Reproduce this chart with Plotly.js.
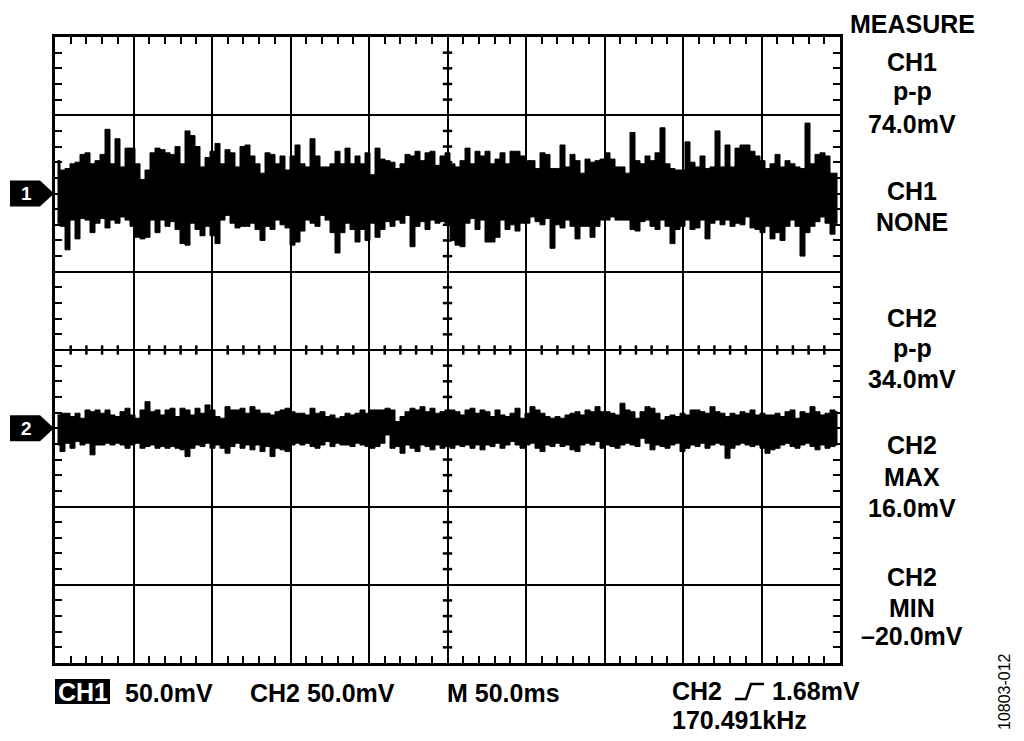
<!DOCTYPE html>
<html>
<head>
<meta charset="utf-8">
<script src="https://cdn.plot.ly/plotly-3.0.1.min.js"></script>
<style>
  html, body { margin: 0; padding: 0; background: #fff; }
  #scope { width: 1024px; height: 741px; }
</style>
</head>
<body>
<div id="scope"></div>
<script>
// envelope of each trace, one column = 1/15.7 div, values in mV from the channel ground
var ch1Hi = [
    21, 15, 16, 19, 20, 25, 26, 19, 21, 25, 41, 19, 35, 17, 29, 29, 19, 9, 15, 26,
    29, 28, 26, 25, 30, 19, 40, 37, 30, 17, 23, 27, 32, 19, 28, 26, 17, 30, 31, 24,
    19, 13, 26, 25, 19, 24, 15, 24, 31, 19, 17, 35, 24, 17, 17, 19, 27, 19, 29, 19,
    24, 19, 26, 12, 29, 22, 21, 20, 16, 19, 25, 24, 27, 21, 26, 27, 18, 24, 26,
    19, 17, 21, 29, 19, 27, 24, 27, 19, 22, 26, 19, 27, 27, 24, 21, 21, 16, 26, 25,
    16, 16, 31, 17, 25, 21, 13, 22, 20, 21, 22, 26, 22, 17, 17, 13, 39, 21, 19,
    24, 21, 26, 42, 19, 16, 15, 15, 33, 20, 17, 24, 16, 17, 40, 17, 31, 17, 29, 31,
    31, 27, 24, 21, 16, 19, 25, 17, 21, 19, 17, 16, 45, 19, 25, 26, 24, 13, 13
];
var ch1Lo = [
    -19, -21, -36, -17, -29, -16, -17, -25, -19, -16, -22, -17, -19, -15, -17, -21, -28, -29, -28, -17,
    -25, -17, -21, -18, -23, -32, -33, -19, -23, -27, -21, -27, -32, -17, -14, -19, -22, -21, -21, -19,
    -23, -30, -21, -23, -17, -20, -22, -33, -31, -24, -17, -19, -21, -14, -17, -25, -38, -25, -19, -23,
    -31, -23, -30, -19, -28, -23, -18, -21, -17, -19, -14, -34, -21, -18, -23, -17, -19, -18, -19,
    -30, -33, -34, -19, -16, -23, -17, -31, -31, -28, -17, -23, -20, -24, -19, -19, -15, -18, -20, -16,
    -35, -20, -22, -17, -21, -29, -21, -21, -28, -21, -17, -17, -15, -17, -17, -17, -23, -24, -18,
    -17, -21, -23, -17, -21, -32, -23, -21, -17, -23, -22, -17, -29, -19, -17, -20, -17, -21, -19, -20,
    -15, -22, -23, -25, -21, -29, -25, -30, -21, -17, -21, -40, -25, -21, -18, -15, -19, -26, -19
];
var ch2Hi = [
    8.5, 9.6, 9.6, 7.5, 9.6, 6.4, 11.7, 10.6, 11.7, 9.6, 11.7, 8.5, 7.5, 10.6, 12.8, 8.5, 6.4, 11.7, 17.0, 10.6,
    11.7, 8.5, 11.7, 12.8, 7.5, 12.8, 11.7, 8.5, 12.8, 9.6, 14.9, 11.7, 7.5, 6.4, 13.8, 11.7, 11.7, 12.8, 9.6, 13.8,
    11.7, 9.6, 9.6, 8.5, 10.6, 11.7, 12.8, 10.6, 9.6, 9.6, 8.5, 12.8, 9.6, 10.6, 7.5, 8.5, 6.4, 7.5, 9.6, 8.5,
    9.6, 11.7, 9.6, 11.7, 11.7, 11.7, 12.8, 11.7, 4.3, 7.5, 10.6, 12.8, 11.7, 13.8, 10.6, 12.8, 9.6, 10.6, 11.7,
    11.7, 10.6, 8.5, 11.7, 12.8, 9.6, 11.7, 10.6, 7.5, 11.7, 8.5, 7.5, 9.6, 12.8, 6.4, 9.6, 13.8, 11.7, 9.6, 7.5,
    6.4, 7.5, 6.4, 8.5, 9.6, 10.6, 8.5, 11.7, 10.6, 13.8, 10.6, 10.6, 9.6, 8.5, 16.0, 11.7, 10.6, 6.4, 10.6, 13.8,
    12.8, 9.6, 5.3, 7.5, 8.5, 7.5, 9.6, 8.5, 11.7, 11.7, 10.6, 9.6, 13.8, 10.6, 9.6, 7.5, 9.6, 8.5, 10.6, 9.6,
    11.7, 8.5, 9.6, 8.5, 8.5, 9.6, 7.5, 10.6, 11.7, 6.4, 10.6, 9.6, 13.8, 10.6, 8.5, 9.6, 11.7, 10.6
];
var ch2Lo = [
    -10.7, -14.9, -9.6, -12.8, -8.5, -10.7, -9.6, -17.0, -10.7, -10.7, -9.6, -10.7, -9.6, -10.7, -12.8, -10.7, -9.6, -12.8, -11.7, -10.7,
    -12.8, -11.7, -12.8, -11.7, -12.8, -13.8, -18.1, -12.8, -10.7, -11.7, -9.6, -12.8, -10.7, -12.8, -16.0, -11.7, -9.6, -12.8, -10.7, -13.8,
    -10.7, -14.9, -11.7, -18.1, -12.8, -13.8, -14.9, -10.7, -9.6, -10.7, -9.6, -11.7, -12.8, -10.7, -8.5, -11.7, -9.6, -10.7, -10.7, -11.7,
    -9.6, -10.7, -11.7, -12.8, -11.7, -9.6, -4.3, -12.8, -11.7, -16.0, -10.7, -12.8, -14.9, -10.7, -11.7, -13.8, -10.7, -12.8, -11.7,
    -12.8, -10.7, -11.7, -10.7, -12.8, -10.7, -13.8, -10.7, -11.7, -9.6, -12.8, -10.7, -8.5, -10.7, -12.8, -10.7, -9.6, -12.8, -14.9, -10.7,
    -11.7, -9.6, -11.7, -10.7, -13.8, -14.9, -10.7, -9.6, -10.7, -8.5, -12.8, -10.7, -11.7, -12.8, -10.7, -9.6, -10.7, -11.7, -6.4, -9.6,
    -13.8, -10.7, -11.7, -12.8, -10.7, -9.6, -14.9, -12.8, -10.7, -11.7, -9.6, -12.8, -10.7, -9.6, -10.7, -19.2, -12.8, -10.7, -9.6, -10.7,
    -11.7, -10.7, -12.8, -16.0, -13.8, -12.8, -10.7, -9.6, -11.7, -12.8, -10.7, -9.6, -11.7, -13.8, -10.7, -12.8, -11.7, -10.7
];

// ground level of each channel on the screen (mV, 50 mV/div)
var ch1Offset = 100;
var ch2Offset = -50;

var measureLabels = ['MEASURE', 'CH1', 'p-p', '74.0mV', 'CH1', 'NONE', 'CH2', 'p-p', '34.0mV',
                     'CH2', 'MAX', '16.0mV', 'CH2', 'MIN', '\u201320.0mV'];
var measureRows = [24, 62, 91, 124, 191, 222, 318, 348, 379, 445, 477, 508, 577, 608, 636];

var settingLabels = ['50.0mV', 'CH2 50.0mV', 'M 50.0ms', 'CH2'];
var settingLeft = [123, 248, 445, 670];
var triggerLevel = '1.68mV';
var triggerFreq = '170.491kHz';
var figureId = '10803-012';

// screen geometry in page pixels
var L = 55, W = 785, T = 37, H = 626;
function fx(px) { return (px - L) / W; }
function fy(py) { return (T + H - py) / H; }

var nCols = ch1Hi.length;
var t = ch1Hi.map(function(v, i) { return (i + 0.5) * 500 / nCols; });

function envelope(vals, offset, fill)
{
    return {
        type: 'scatter',
        mode: 'lines',
        x: t,
        y: vals.map(function(v) { return v + offset; }),
        line: { color: '#000', width: 1, shape: 'hvh' },
        fill: fill ? 'tonexty' : 'none',
        fillcolor: '#000',
        hoverinfo: 'skip',
        showlegend: false
    };
}

var data =
[
    envelope(ch1Lo, ch1Offset, false),
    envelope(ch1Hi, ch1Offset, true),
    envelope(ch2Lo, ch2Offset, false),
    envelope(ch2Hi, ch2Offset, true)
];

var font = 'Liberation Sans, Arial, Helvetica, sans-serif';

function frameAxis(range, minor)
{
    return {
        range: range,
        dtick: 50,
        tick0: 0,
        showgrid: true,
        gridcolor: '#000',
        gridwidth: 2,
        showline: true,
        linecolor: '#000',
        linewidth: 3,
        mirror: 'allticks',
        ticks: 'inside',
        ticklen: 7,
        tickwidth: 2,
        tickcolor: '#000',
        minor: { dtick: minor, ticks: 'inside', ticklen: 7, tickwidth: 2, tickcolor: '#000', showgrid: false },
        showticklabels: false,
        zeroline: false,
        fixedrange: true
    };
}

function label(text, px, py, size, anchor, color)
{
    return {
        text: text,
        xref: 'paper',
        yref: 'paper',
        x: fx(px),
        y: fy(py),
        xanchor: anchor,
        yanchor: 'middle',
        showarrow: false,
        font: { family: font, size: size, color: color || '#000', weight: 700 }
    };
}

function channelMarker(offset)
{
    var h = 13 * 400 / H;
    return {
        type: 'path',
        xref: 'paper',
        yref: 'y',
        path: 'M' + fx(10) + ',' + (offset + h) + ' L' + fx(40) + ',' + (offset + h) +
              ' L' + fx(54) + ',' + offset + ' L' + fx(40) + ',' + (offset - h) +
              ' L' + fx(10) + ',' + (offset - h) + ' Z',
        fillcolor: '#000',
        line: { width: 0 }
    };
}

function markerDigit(s, offset)
{
    return {
        text: s, xref: 'paper', yref: 'y', x: fx(26), y: offset,
        xanchor: 'center', yanchor: 'middle', showarrow: false,
        font: { family: font, size: 19, color: '#fff', weight: 700 }
    };
}

var annotations = [];
measureLabels.forEach(function(s, i) { annotations.push(label(s, 912, measureRows[i], 25, 'center')); });
settingLabels.forEach(function(s, i) { annotations.push(label(s, settingLeft[i], i == 3 ? 691 : 693, 25, 'left')); });
annotations.push(label('CH1', 83, 692, 25, 'center', '#fff'));
annotations.push(label(triggerLevel, 862, 691, 25, 'right'));
annotations.push(label(triggerFreq, 670, 720, 25, 'left'));
annotations.push({
    text: figureId, xref: 'paper', yref: 'paper', x: fx(1004), y: fy(692),
    xanchor: 'center', yanchor: 'middle',
    textangle: -90, showarrow: false, font: { family: font, size: 16, color: '#000' }
});
annotations.push(markerDigit('1', ch1Offset));
annotations.push(markerDigit('2', ch2Offset));

var shapes =
[
    channelMarker(ch1Offset),
    channelMarker(ch2Offset),
    {
        type: 'rect', xref: 'paper', yref: 'paper',
        x0: fx(55), x1: fx(110), y0: fy(704), y1: fy(679),
        fillcolor: '#000', line: { width: 0 }
    },
    {
        type: 'path', xref: 'paper', yref: 'paper',
        path: 'M' + fx(735) + ',' + fy(699) + ' L' + fx(746) + ',' + fy(699) +
              ' L' + fx(751) + ',' + fy(684) + ' L' + fx(764) + ',' + fy(684),
        line: { color: '#000', width: 2.5 }
    }
];

// small ticks across the centre graticule lines, every 0.2 div
for (var tx = 10; tx < 500; tx += 10)
{
    if (tx % 50) shapes.push({ type: 'line', xref: 'x', yref: 'y', layer: 'above', x0: tx, x1: tx, y0: -3, y1: 3, line: { color: '#000', width: 2.5 } });
}
for (var ty = -190; ty < 200; ty += 10)
{
    if (ty % 50) shapes.push({ type: 'line', xref: 'x', yref: 'y', layer: 'above', x0: 247, x1: 253, y0: ty, y1: ty, line: { color: '#000', width: 2.5 } });
}

var layout =
{
    width: 1024,
    height: 741,
    margin: { l: L, r: 1024 - L - W, t: T, b: 741 - T - H, pad: 0 },
    paper_bgcolor: '#fff',
    plot_bgcolor: '#fff',
    showlegend: false,
    xaxis: frameAxis([0, 500], 10),
    yaxis: frameAxis([-200, 200], 10),
    shapes: shapes,
    annotations: annotations
};

Plotly.newPlot('scope', data, layout, { staticPlot: true, displayModeBar: false });
</script>
</body>
</html>
